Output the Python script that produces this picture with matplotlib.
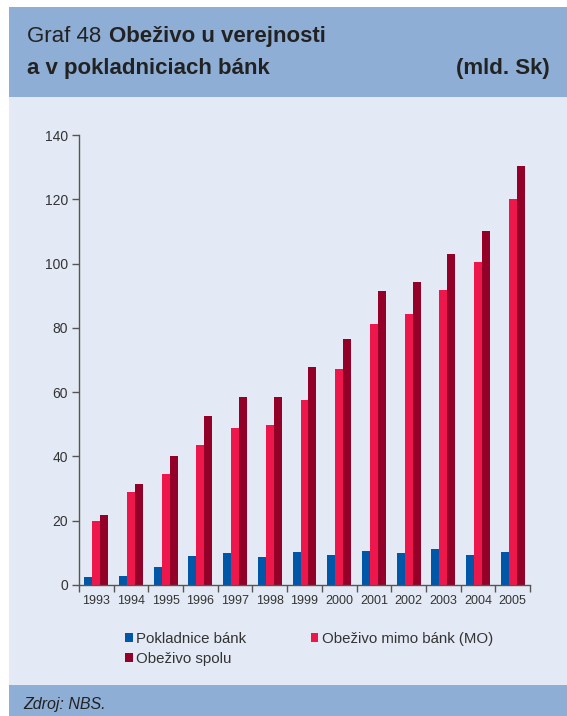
import matplotlib
matplotlib.use("Agg")
import matplotlib.pyplot as plt
import numpy as np
from matplotlib.patches import Rectangle

# Data (mld. Sk)
years = ["1993", "1994", "1995", "1996", "1997", "1998", "1999",
         "2000", "2001", "2002", "2003", "2004", "2005"]
pokladnice = [2.6, 2.9, 5.7, 9.1, 10.1, 8.8, 10.4, 9.4, 10.7, 10.1, 11.3, 9.4, 10.4]
mimo_bank = [20.0, 29.0, 34.6, 43.7, 49.0, 49.9, 57.7, 67.3, 81.1, 84.2, 91.7, 100.4, 120.0]
spolu = [21.9, 31.5, 40.2, 52.7, 58.6, 58.6, 67.9, 76.5, 91.4, 94.2, 102.9, 110.1, 130.3]
y_ticks = [0, 20, 40, 60, 80, 100, 120, 140]

# colours
c_blue = "#0057a8"
c_pink = "#ee174c"
c_dark = "#930028"
c_head = "#8eaed6"
c_body = "#e3eaf5"

plt.rcParams['font.family'] = ['Liberation Sans', 'DejaVu Sans']

W, H = 567, 716
fig = plt.figure(figsize=(W / 100, H / 100), dpi=100)
fig.patch.set_facecolor("white")

def box(x0, y0, x1, y1, color):
    # rectangle given in pixel coords from the top-left corner
    fig.patches.append(Rectangle((x0 / W, 1 - y1 / H), (x1 - x0) / W, (y1 - y0) / H,
                                 transform=fig.transFigure, facecolor=color,
                                 edgecolor="none", zorder=-10))

box(9, 7, W, 97, c_head)
box(9, 97, W, 685, c_body)
box(9, 685, W, H, c_head)

# title
fig.text(27 / W, 1 - 42 / H, "Graf 48 ", fontsize=16, color="#222222", va="baseline")
fig.text(109 / W, 1 - 42 / H, "Obeživo u verejnosti", fontsize=16, fontweight="bold",
         color="#222222", va="baseline")
fig.text(27 / W, 1 - 74 / H, "a v pokladniciach bánk", fontsize=16, fontweight="bold",
         color="#222222", va="baseline")
fig.text(550 / W, 1 - 74 / H, "(mld. Sk)", fontsize=16, fontweight="bold",
         color="#222222", va="baseline", ha="right")

# footer
fig.text(23 / W, 1 - 709 / H, "Zdroj: NBS.", fontsize=11.5, style="italic",
         color="#222222", va="baseline")

# chart area
ax = fig.add_axes([79 / W, 1 - 585 / H, 451 / W, 450 / H])
ax.set_facecolor("none")

x = np.arange(len(years))
w = 0.23
b1 = ax.bar(x - w, pokladnice, w, color=c_blue, label="Pokladnice bánk")
b2 = ax.bar(x, mimo_bank, w, color=c_pink, label="Obeživo mimo bánk (MO)")
b3 = ax.bar(x + w, spolu, w, color=c_dark, label="Obeživo spolu")

ax.set_xlim(-0.5, len(years) - 0.5)
ax.set_ylim(0, 140)
ax.set_yticks(y_ticks)
ax.set_xticks(x)
ax.set_xticklabels(years, fontsize=9, color="#333333")
ax.set_xticks(np.arange(-0.5, len(years)), minor=True)
ax.tick_params(axis="x", which="major", length=0, pad=7)
ax.tick_params(axis="x", which="minor", length=5, width=1, color="#555555", direction="out")
ax.tick_params(axis="y", length=5, width=1, color="#555555", labelsize=10,
               labelcolor="#333333", pad=3)

for s in ["top", "right"]:
    ax.spines[s].set_visible(False)
for s in ["left", "bottom"]:
    ax.spines[s].set_color("#555555")
    ax.spines[s].set_linewidth(1)

# legend, ordered so rows read across
leg = fig.legend([b1, b3, b2],
                 ["Pokladnice bánk", "Obeživo spolu", "Obeživo mimo bánk (MO)"],
                 ncol=2, loc="upper left", bbox_to_anchor=(125 / W, 1 - 632 / H),
                 frameon=False, fontsize=10.8, handlelength=0.5, handleheight=0.5,
                 handletextpad=0.25, columnspacing=4.3, labelspacing=0.4,
                 borderaxespad=0, borderpad=0)
for t in leg.get_texts():
    t.set_color("#333333")

fig.savefig("out.png", dpi=100)
